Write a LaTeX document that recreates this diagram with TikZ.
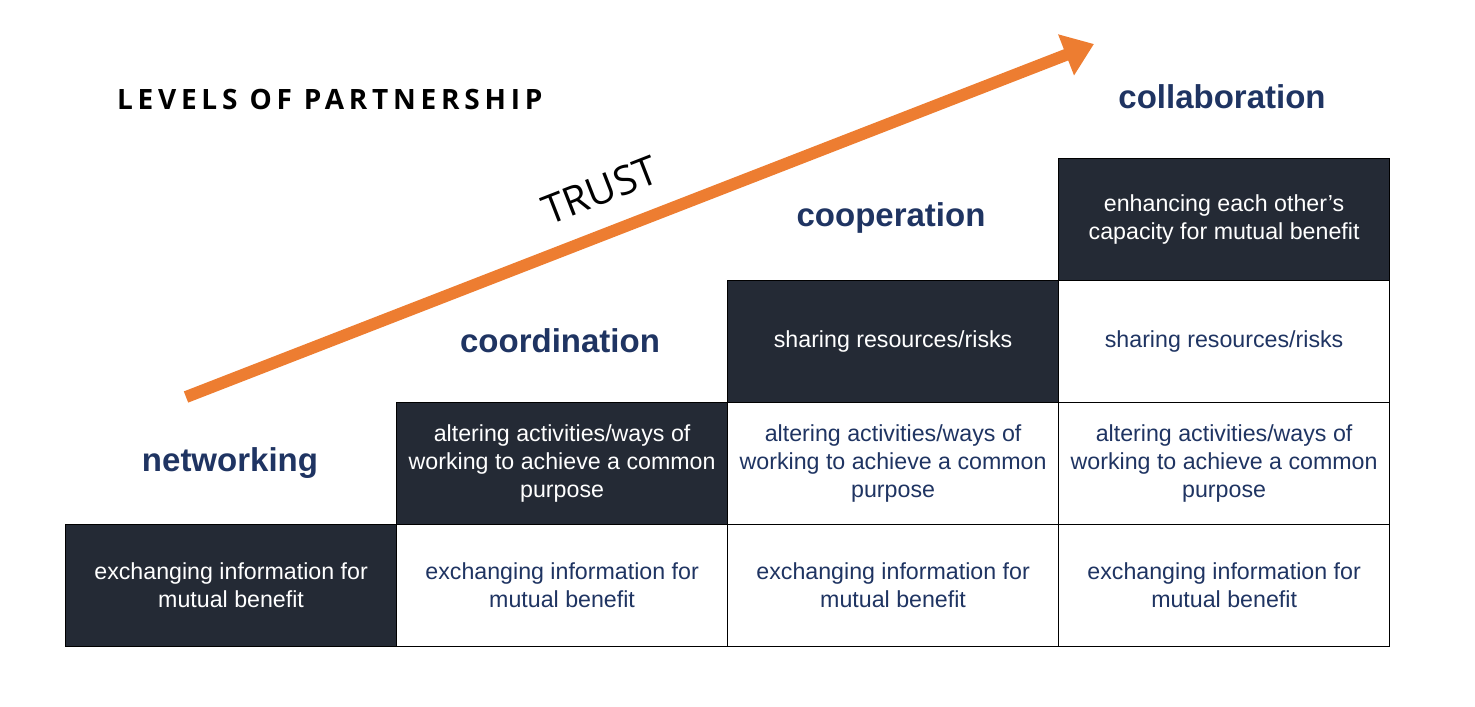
\documentclass[tikz,border=0pt]{standalone}
\usepackage{fontspec}
\setmainfont{Liberation Sans}
\newfontfamily\titlefont[LetterSpace=17]{Open Sans}
\newfontfamily\trustfont{Open Sans}
\usetikzlibrary{arrows.meta}
\definecolor{navy}{HTML}{1F3462}
\definecolor{slate}{HTML}{242A35}
\definecolor{trustorange}{HTML}{ED7D31}
\begin{document}
\begin{tikzpicture}[x=0.5pt,y=-0.5pt,
			cell/.style={draw=black,line width=0.6pt,anchor=north west,minimum width=165.5pt,minimum height=61pt,
				align=center,font=\fontsize{11.6}{14}\selectfont,inner sep=0pt},
			darkcell/.style={cell,fill=slate,text=white},
			lightcell/.style={cell,fill=white,text=navy},
			level/.style={font=\fontsize{16.5}{19}\selectfont\bfseries,text=navy}]
			\useasboundingbox (0,0) rectangle (1475,706);
			% bottom row
			\node[darkcell] (n1) at (65,524) {exchanging information for\\mutual benefit};
			\foreach \x/\nm in {396/c1,727/p1,1058/l1}
				\node[lightcell] (\nm) at (\x,524) {exchanging information for\\mutual benefit};
			% second row
			\node[darkcell] (c2) at (396,402) {altering activities/ways of\\working to achieve a common\\purpose};
			\foreach \x/\nm in {727/p2,1058/l2}
				\node[lightcell] (\nm) at (\x,402) {altering activities/ways of\\working to achieve a common\\purpose};
			% third row
			\node[darkcell] (p3) at (727,280) {sharing resources/risks};
			\node[lightcell] (l3) at (1058,280) {sharing resources/risks};
			% top
			\node[darkcell] (l4) at (1058,158) {enhancing each other's\\capacity for mutual benefit};
			% levels
			\node[level] (networking) at (230,463) {networking};
			\node[level] (coordination) at (560,341) {coordination};
			\node[level] (cooperation) at (891,218) {cooperation};
			\node[level] (collaboration) at (1222,97) {collaboration};
			\node[anchor=west,font=\titlefont\bfseries\fontsize{14}{16}\selectfont] (title) at (110,99) {LEVELS OF PARTNERSHIP};
			% trust arrow
			\coordinate (tail) at (186,397);
			\coordinate (tip) at (1094,44);
			\draw[trustorange,line width=6pt,-{Triangle[length=15pt,width=21pt]}] (tail) -- (tip);
			\node[rotate=21.3,font=\trustfont\fontsize{20}{22}\selectfont] (trust) at (600,190) {TRUST};
		\end{tikzpicture}
\end{document}
